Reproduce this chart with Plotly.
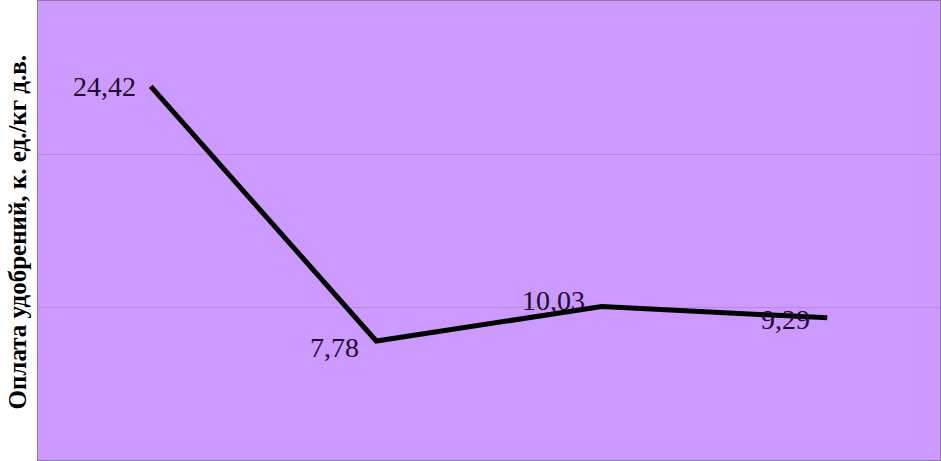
import plotly.graph_objects as go

# данные
categories = ['Вариант 1', 'Вариант 2', 'Вариант 3', 'Вариант 4']
values = [24.42, 7.78, 10.03, 9.29]
labels = ['24,42', '7,78', '10,03', '9,29']
y_title = 'Оплата удобрений, к. ед./кг д.в.'

# сдвиги подписей (пиксели)
label_shift = [(-13, 0), (-15, -7), (-15, 6), (-15, -2)]

fig = go.Figure()
fig.add_trace(go.Scatter(
    x=categories, y=values,
    mode='lines',
    line=dict(color='black', width=5),
    hoverinfo='skip', showlegend=False,
))

for c, v, t, (dx, dy) in zip(categories, values, labels, label_shift):
    fig.add_annotation(
        x=c, y=v, text=t, showarrow=False,
        xanchor='right', yanchor='middle', xshift=dx, yshift=dy,
        font=dict(family='Liberation Serif', size=28, color='#1e0a2a'),
    )

# подпись оси Y
fig.add_annotation(
    xref='paper', yref='paper', x=0, y=0.5, xshift=-21, yshift=-2,
    text='<b>' + y_title + '</b>', textangle=-90, showarrow=False,
    xanchor='center', yanchor='middle',
    font=dict(family='Liberation Serif', size=25, color='black'),
)

fig.update_layout(
    width=941, height=461,
    margin=dict(l=38, r=1, t=1, b=1),
    paper_bgcolor='white',
    plot_bgcolor='#CC99FF',
    font=dict(family='Liberation Serif'),
)
fig.update_xaxes(
    range=[-0.5, 3.5], showticklabels=False, showgrid=False, zeroline=False,
    showline=True, mirror=True, linecolor='#8e7aa0', linewidth=1, ticks='',
)
fig.update_yaxes(
    range=[0, 30], dtick=10, showticklabels=False, showgrid=True,
    gridcolor='#b98ae0', gridwidth=1, zeroline=False, automargin=False,
    showline=True, mirror=True, linecolor='#8e7aa0', linewidth=1, ticks='',
)

fig.write_html('out.html', config={'displayModeBar': False},
               post_script="document.body.style.margin='0';")
